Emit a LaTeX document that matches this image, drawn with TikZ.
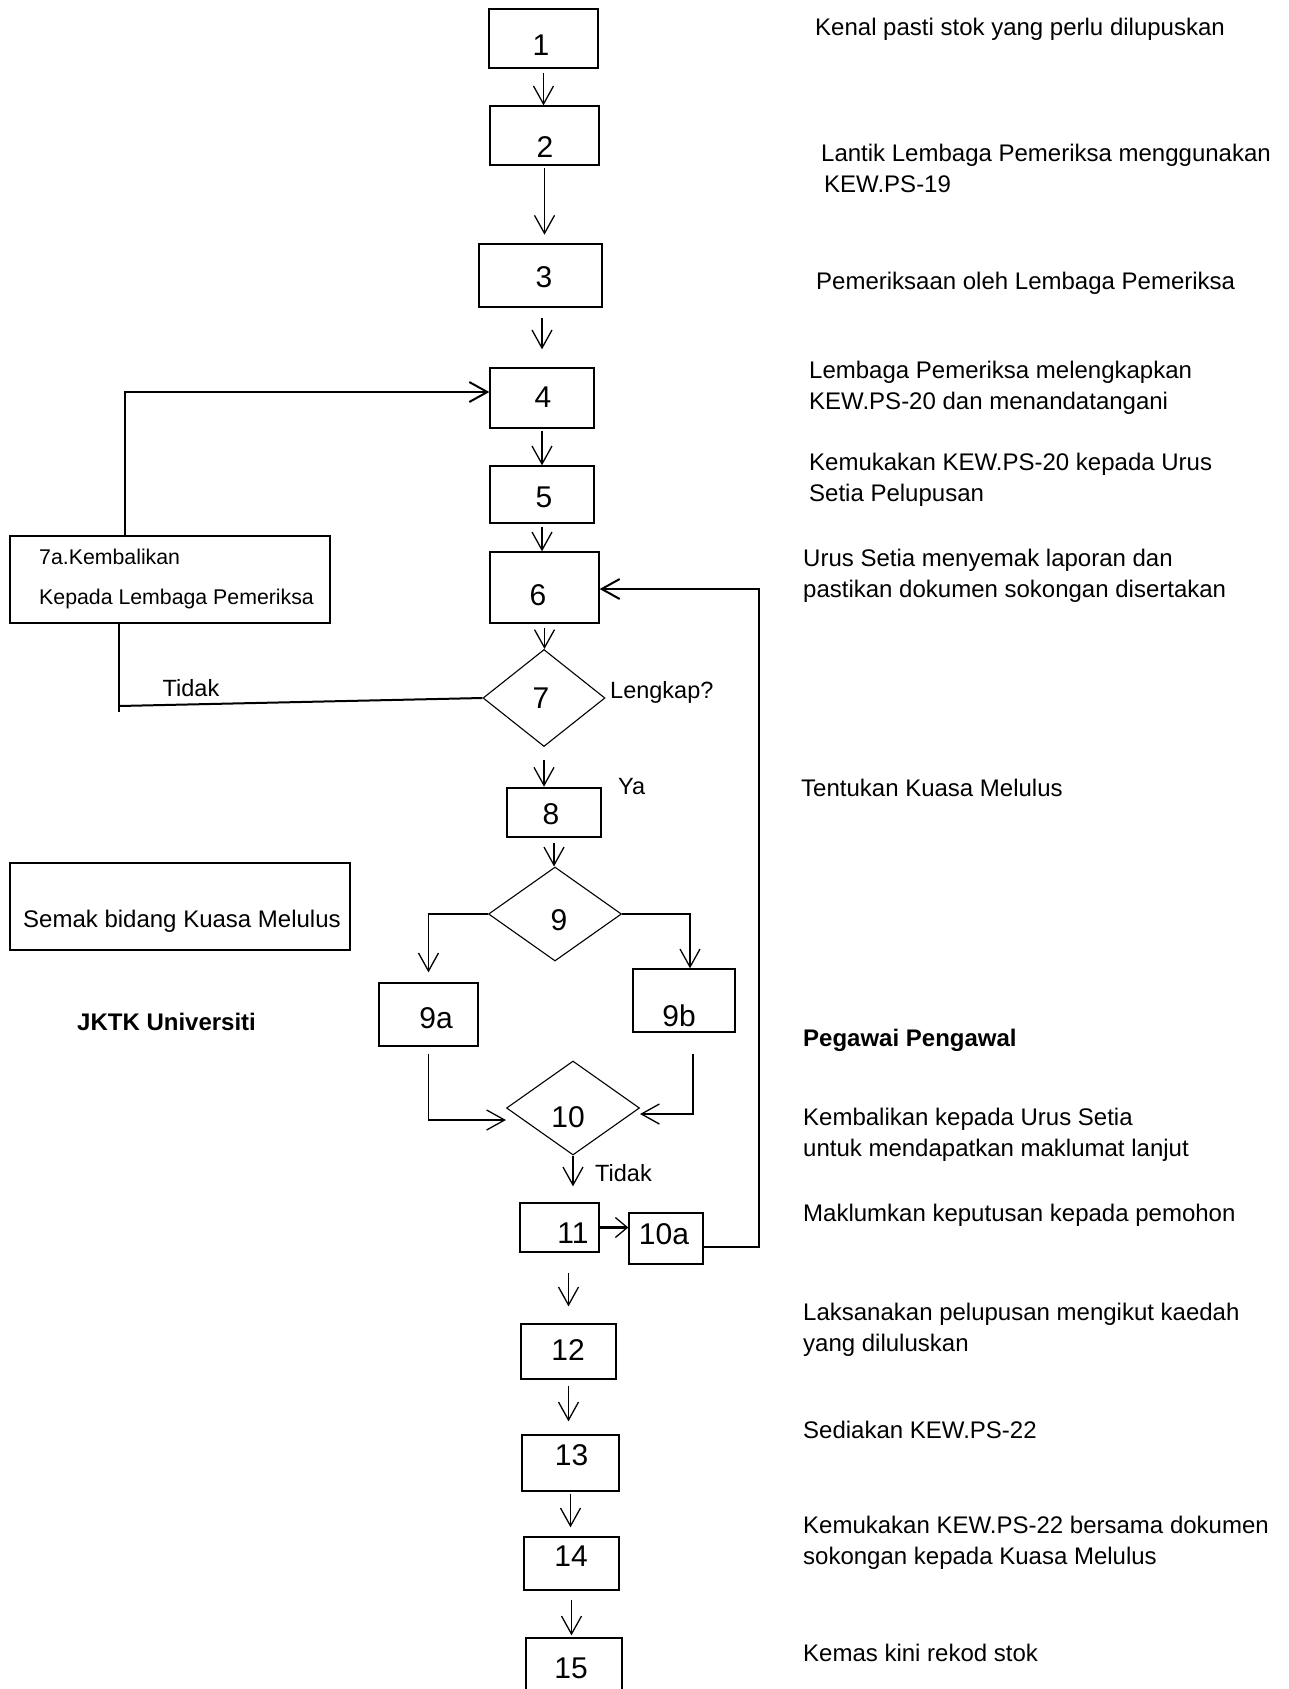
\documentclass[tikz,border=0pt]{standalone}
\usepackage{fontspec}
\setmainfont{Liberation Sans}
\usetikzlibrary{shapes.geometric,arrows.meta,calc}

\tikzset{
  box/.style={draw, line width=1.3pt, inner sep=0pt},
  thickbox/.style={box, line width=2.6pt},
  decide/.style={draw, diamond, line width=1.1pt, inner sep=0pt},
  num/.style={inner sep=0pt, font=\fontsize{30}{36}\selectfont},
  note/.style={anchor=west, inner sep=0pt, align=left, font=\fontsize{24}{31}\selectfont},
  tag/.style={inner sep=0pt, font=\fontsize{23.5}{28}\selectfont},
  arr/.style={-{Straight Barb[length=18pt,width=20pt]}, line width=1.3pt},
  link/.style={line width=2pt},
}

\begin{document}
\begin{tikzpicture}[x=1pt, y=-1pt]
\useasboundingbox (0,0) rectangle (1289,1689);
\clip (0,0) rectangle (1289,1689);

%%%%% main column %%%%%
\node[box, minimum width=109pt, minimum height=59pt] (b1) at (543.5,38.5) {};
\node[box, minimum width=109pt, minimum height=59pt] (b2) at (544.5,135.5) {};
\node[thickbox, minimum width=123pt, minimum height=63pt] (b3) at (540.5,275.5) {};
\node[box, minimum width=104pt, minimum height=60pt] (b4) at (542,398) {};
\node[box, minimum width=104pt, minimum height=57pt] (b5) at (542,494.5) {};
\node[box, minimum width=109pt, minimum height=71pt] (b6) at (544.5,587.5) {};
\node[decide, minimum width=122pt, minimum height=97pt] (d7) at (544,698) {};
\node[thickbox, minimum width=94pt, minimum height=49pt] (b8) at (554,812.5) {};
\node[decide, minimum width=133pt, minimum height=94pt] (d9) at (555,914) {};
\node[box, minimum width=99pt, minimum height=63pt] (b9a) at (428.5,1014.5) {};
\node[box, minimum width=102pt, minimum height=63pt] (b9b) at (684,1000.5) {};
\node[decide, minimum width=133pt, minimum height=94pt] (d10) at (573,1108) {};
\node[box, minimum width=79pt, minimum height=49pt] (b11) at (559.5,1227.5) {};
\node[box, minimum width=74pt, minimum height=51pt] (b10a) at (666,1238.5) {};
\node[box, minimum width=95pt, minimum height=55pt] (b12) at (568.5,1351.5) {};
\node[box, minimum width=97pt, minimum height=56pt] (b13) at (570.5,1463) {};
\node[box, minimum width=95pt, minimum height=53pt] (b14) at (571.5,1563.5) {};
\node[box, minimum width=96pt, minimum height=100pt] (b15) at (574,1688) {};

\node[num] (n1) at (541,45) {1};
\node[num] (n2) at (545,147) {2};
\node[num] (n3) at (544,277) {3};
\node[num] (n4) at (543,397) {4};
\node[num] (n5) at (544,497) {5};
\node[num] (n6) at (538,595) {6};
\node[num] (n7) at (541,698) {7};
\node[num] (n8) at (551,814) {8};
\node[num] (n9) at (559,920) {9};
\node[num] (n9a) at (436,1018) {9a};
\node[num] (n9b) at (679,1016) {9b};
\node[num] (n10) at (568,1117) {10};
\node[num] (n11) at (573,1233) {11};
\node[num] (n10a) at (664,1234) {10a};
\node[num] (n12) at (568,1350) {12};
\node[num] (n13) at (571.5,1455) {13};
\node[num] (n14) at (571,1556) {14};
\node[num] (n15) at (571,1668) {15};

%%%%% left side %%%%%
\node[box, minimum width=320pt, minimum height=87pt] (k7a) at (170,579.5) {};
\node[anchor=west, inner sep=0pt, align=left, font=\fontsize{21.3}{40}\selectfont] (t7a) at (39,579) {7a.Kembalikan\\Kepada Lembaga Pemeriksa};
\node[box, minimum width=340pt, minimum height=87pt] (ks) at (180,906.5) {};
\node[note] (ts) at (23,921) {Semak bidang Kuasa Melulus};
\node[note, font={\fontsize{24}{31}\selectfont\bfseries}] (jk) at (77,1022) {JKTK Universiti};

%%%%% labels %%%%%
\node[tag] (tidak7) at (191,688) {Tidak};
\node[tag, anchor=west] (lk) at (610,692) {Lengkap?};
\node[tag, anchor=west] (ya) at (618,787) {Ya};
\node[tag, anchor=west] (tidak10) at (595,1173) {Tidak};

%%%%% right column %%%%%
\node[note] (t1) at (815,29) {Kenal pasti stok yang perlu dilupuskan};
\node[note] (t2) at (821,168) {Lantik Lembaga Pemeriksa menggunakan\\\hspace{3pt}KEW.PS-19};
\node[note] (t3) at (816,283) {Pemeriksaan oleh Lembaga Pemeriksa};
\node[note] (t4) at (809,388) {Lembaga Pemeriksa melengkapkan\\KEW.PS-20 dan menandatangani};
\node[note] (t5) at (809,479.5) {Kemukakan KEW.PS-20 kepada Urus\\Setia Pelupusan};
\node[note] (t6) at (803,576) {Urus Setia menyemak laporan dan\\pastikan dokumen sokongan disertakan};
\node[note] (t8) at (801,788) {Tentukan Kuasa Melulus};
\node[note, font={\fontsize{24}{31}\selectfont\bfseries}] (pp) at (803,1040) {Pegawai Pengawal};
\node[note] (t10) at (803,1135) {Kembalikan kepada Urus Setia\\untuk mendapatkan maklumat lanjut};
\node[note] (t11) at (803,1215) {Maklumkan keputusan kepada pemohon};
\node[note] (t12) at (803,1330) {Laksanakan pelupusan mengikut kaedah\\yang diluluskan};
\node[note] (t13) at (803,1430) {Sediakan KEW.PS-22};
\node[note] (t14) at (803,1542.5) {Kemukakan KEW.PS-22 bersama dokumen\\sokongan kepada Kuasa Melulus};
\node[note] (t15) at (803,1653) {Kemas kini rekod stok};

%%%%% connectors %%%%%
\draw[arr, shorten <=4pt] (b1.south) -- (b1.south |- b2.north);
\draw[arr, shorten <=2pt, shorten >=8pt] (b2.south) -- (b2.south |- b3.north);
\draw[arr, shorten <=10pt, shorten >=18pt] (b4.north |- b3.south) -- (b4.north);
\draw[arr, shorten <=2pt] (b4.south) -- (b4.south |- b5.north);
\draw[arr, shorten <=3pt] (b5.south) -- (b5.south |- b6.north);
\draw[arr, shorten <=4pt] (b6.south) -- (b6.south |- d7.north);
\draw[arr, shorten <=13pt] (d7.south) -- (d7.south |- b8.north);
\draw[arr, shorten <=5pt] (b8.south) -- (b8.south |- d9.north);
\draw[arr, shorten >=10pt] (d9.west) -| (b9a.north);
\draw[arr] (d9.east) -| ([xshift=6pt]b9b.north);
\draw[arr, shorten <=7pt] (b9a.south) |- ([yshift=-12pt]d10.west);
\draw[arr, shorten <=21pt] ([xshift=9pt]b9b.south) |- ([yshift=-6pt]d10.east);
\draw[arr, shorten >=16pt] (d10.south) -- (d10.south |- b11.north);
\draw[line width=2.5pt, -{Straight Barb[length=12pt,width=20pt,line width=1.3pt]}] (b11.east) -- (b11.east -| b10a.west);
\draw[arr, shorten <=20pt, shorten >=17pt] (b12.north |- b11.south) -- (b12.north);
\draw[arr, shorten <=6pt, shorten >=13pt] (b12.south) -- (b12.south |- b13.north);
\draw[arr, shorten <=2pt, shorten >=9pt] (b13.south) -- (b13.south |- b14.north);
\draw[arr, shorten <=9pt, shorten >=2pt] (b14.south) -- (b14.south |- b15.north);

% back to 6
\coordinate (rt) at (759,589);
\draw[arr, link] ([yshift=-8pt]b10a.east) -| (rt) -- (b6.east |- rt);

% back to 4
\coordinate (up7a) at (125,392);
\draw[arr, link] (k7a.north -| up7a) -- (up7a) -- (up7a -| b4.west);
\coordinate (lo7a) at (119,712);
\draw[link] (k7a.south -| lo7a) -- (lo7a);
\draw[link] (d7.west) -- ([yshift=-8pt]d7.west -| lo7a);

\end{tikzpicture}
\end{document}
